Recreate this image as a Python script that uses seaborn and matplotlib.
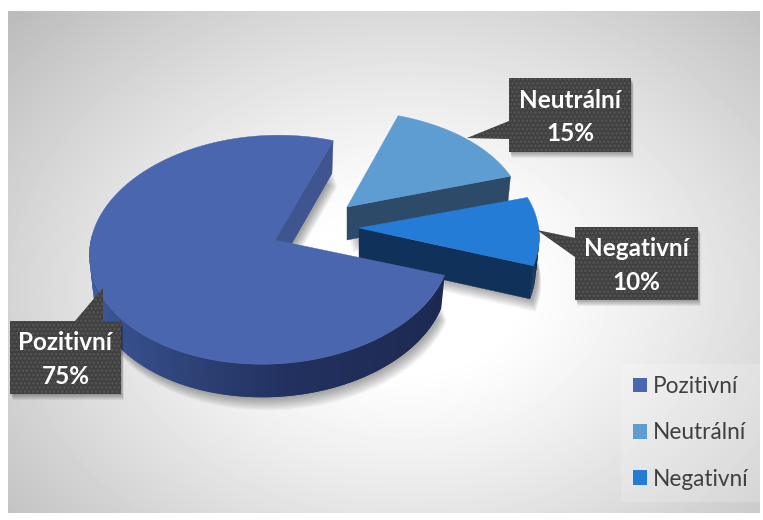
import numpy as np
import matplotlib
matplotlib.use("Agg")
import matplotlib.pyplot as plt
from matplotlib.patches import Polygon, Patch
from matplotlib.colors import LinearSegmentedColormap
import seaborn as sns

categories = ["Pozitivní", "Neutrální", "Negativní"]
values = [75, 15, 10]
top_colors = ["#4a66ae", "#5e9dd2", "#257cd6"]

sns.set_theme(style="white")
plt.rcParams["font.family"] = ["Lato", "DejaVu Sans"]
plt.rcParams["hatch.linewidth"] = 1.3
palette = sns.color_palette(top_colors)

W, H = 763, 520
fig = plt.figure(figsize=(W / 100, H / 100), dpi=100)
ax = fig.add_axes([0, 0, 1, 1])
ax.set_xlim(0, W)
ax.set_ylim(H, 0)
ax.axis("off")

# background
FL, FT, FR, FB = 8, 11, 760, 513
yy, xx = np.mgrid[FT:FB, FL:FR]
d = np.sqrt(((xx - 410) / 400.0) ** 2 + ((yy - 290) / 300.0) ** 2)
bg = 1 - 0.25 * np.clip((d - 0.25) / 1.05, 0, None) ** 1.2
ax.imshow(bg, extent=(FL, FR, FB, FT), cmap="gray", vmin=0, vmax=1, aspect="auto", zorder=0)
ax.set_xlim(0, W)
ax.set_ylim(H, 0)

# projection of the pie disc
TILT, SKEW = 0.085, -0.022
BASE_RX, BASE_RY, DEPTH, BOTTOM_SHRINK = 180, 116, 33, 0.98

apexes = [(275, 240), (347, 207), (359, 228)]
scales = [(1.0, 0.98), (1.0, 0.90), (1.02, 0.97)]
shears = [0.07, 0.0, 0.0]
rotations = [0.0, 0.0, 1.5]


def proj(theta_deg, idx, bottom=False):
    apex, (sx, sy) = apexes[idx], scales[idx]
    t = np.radians(np.asarray(theta_deg, dtype=float) + rotations[idx])
    X, Y = np.sin(t), -np.cos(t)
    w = 1 - TILT * Y - SKEW * X
    dy = BASE_RY * sy * Y / w
    dx = BASE_RX * sx * X / w - shears[idx] * dy
    if bottom:
        return np.column_stack([apex[0] + dx * BOTTOM_SHRINK, apex[1] + dy + DEPTH])
    return np.column_stack([apex[0] + dx, apex[1] + dy])


start_angle = 108
angles = np.cumsum([start_angle] + [v * 3.6 for v in values])
spans = [(angles[i], angles[i + 1]) for i in range(3)]


def add_shadow(pts, dx, dy, n=10, spread=1.0, alpha=0.035, z=1):
    for i in range(n):
        ax.add_patch(Polygon(pts + np.array([dx + i * 0.3 * spread, dy + i * spread]),
                             closed=True, fc="black", ec="none", alpha=alpha, zorder=z))


def outline(idx, bottom=False):
    th = np.linspace(*spans[idx], 200)
    ap = apexes[idx]
    ap = (ap[0], ap[1] + (DEPTH if bottom else 0))
    return np.vstack([[ap], proj(th, idx, bottom=bottom)])


for idx in [0, 1, 2]:
    add_shadow(outline(idx, bottom=True), 2, 1, n=12, spread=1.1, alpha=0.03, z=1)


def radial_face(idx, edge, color, z):
    ap = apexes[idx]
    p = proj([edge], idx)[0]
    q = proj([edge], idx, bottom=True)[0]
    ax.add_patch(Polygon([ap, p, q, (ap[0], ap[1] + DEPTH)], closed=True, fc=color, ec=color, lw=0.3, zorder=z))


def outer_wall(idx, a0, a1, cmap, z):
    ths = np.linspace(a0, a1, 161)
    for k in range(len(ths) - 1):
        seg = np.linspace(ths[k], ths[min(k + 2, len(ths) - 1)], 3)
        poly = np.vstack([proj(seg, idx), proj(seg, idx, bottom=True)[::-1]])
        ax.add_patch(Polygon(poly, closed=True, fc=cmap(k / 159), ec="none", zorder=z + k * 1e-4))


def top_face(idx, z):
    col = palette[idx]
    ax.add_patch(Polygon(outline(idx), closed=True, fc=col, ec=col, lw=0.3, zorder=z))


big_wall = LinearSegmentedColormap.from_list(
    "wall", ["#1c2a52", "#1e2c56", "#22315f", "#2f4479", "#3a5595", "#4460a6"])
flat_neg = LinearSegmentedColormap.from_list("g", ["#10325a", "#10325a"])

radial_face(1, spans[1][1], "#2d4a68", 3)
top_face(1, 3.5)

radial_face(2, spans[2][1], "#10325a", 4)
outer_wall(2, spans[2][0] + 16, spans[2][1], flat_neg, 4.1)
top_face(2, 4.5)

radial_face(0, spans[0][1], "#3e5590", 5)
outer_wall(0, spans[0][0], 272, big_wall, 5.1)
top_face(0, 5.5)

# data-label call-outs
boxes = [(10, 321, 121, 394), (509, 78, 631, 152), (575, 227, 698, 300)]
tails = [[(75, 321), (103, 288), (103, 321)],
         [(509, 121), (467, 138), (509, 139)],
         [(575, 257), (537, 230), (575, 238)]]
for (l, t, r, b), tail, cat, val in zip(boxes, tails, categories, values):
    rect = np.array([(l, t), (r, t), (r, b), (l, b)], dtype=float)
    add_shadow(rect, 1, 1, n=6, spread=1.0, alpha=0.06, z=7)
    ax.add_patch(Polygon(tail, closed=True, fc="#404040", ec="#555555", lw=0, hatch="....", zorder=8))
    ax.add_patch(Polygon(rect, closed=True, fc="#404040", ec="#555555", lw=0, hatch="....", zorder=8))
    ax.text((l + r) / 2, (t + b) / 2 + 2, f"{cat}\n{val}%", color="white", ha="center", va="center",
            fontsize=17.5, fontweight="bold", linespacing=1.55, zorder=9)

# legend
handles = [Patch(fc=c, ec="none", label=n) for c, n in zip(palette, categories)]
leg = ax.legend(handles=handles, loc="upper left", bbox_to_anchor=(621, 364), bbox_transform=ax.transData,
                borderaxespad=0, frameon=True, fontsize=16.3, labelcolor="#404040", handlelength=0.62,
                handleheight=0.62, handletextpad=0.26, labelspacing=1.12, borderpad=0.53,
                fancybox=False, framealpha=0.2, facecolor="white", edgecolor="none")
leg.set_zorder(6)

fig.savefig("out.png", dpi=100)
